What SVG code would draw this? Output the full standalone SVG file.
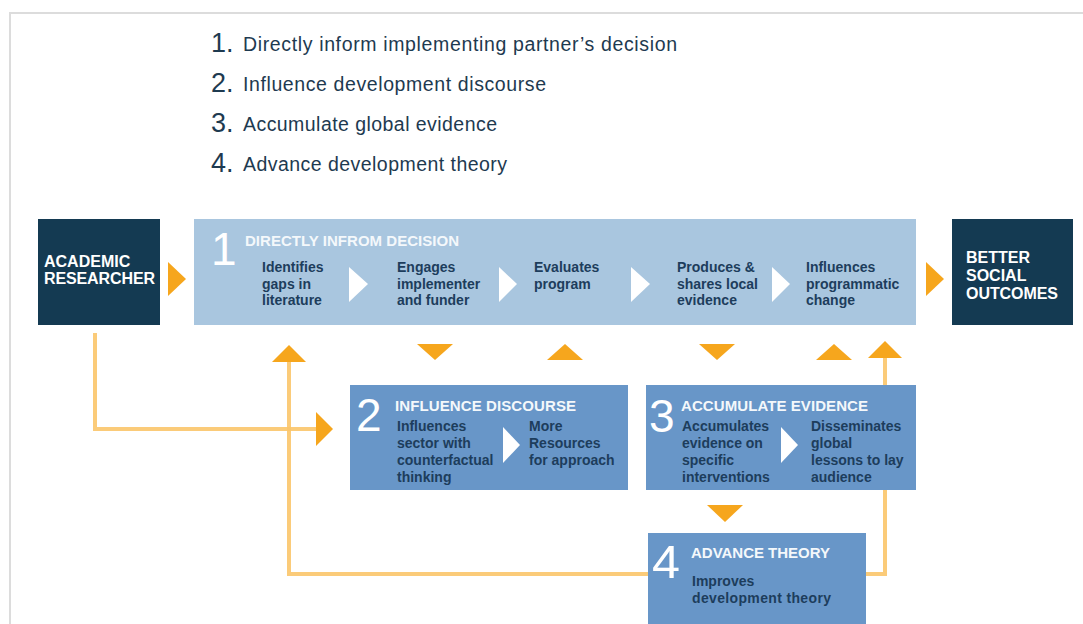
<svg xmlns="http://www.w3.org/2000/svg" width="1083" height="624" viewBox="0 0 1083 624">
<style>
.list{font-family:"Liberation Sans",Arial,sans-serif;fill:#1e3a50;font-size:19.5px}
.num{font-family:"Liberation Sans",Arial,sans-serif;fill:#1e3a50;font-size:27px}
.dark{fill:#143a52}
.light{fill:#a9c6df}
.mid{fill:#6896c8}
.wt{font-family:"Liberation Sans",Arial,sans-serif;font-weight:bold;fill:#ffffff;font-size:16px}
.ttl{font-family:"Liberation Sans",Arial,sans-serif;font-weight:bold;fill:#f4f8fb;font-size:15px}
.bt{font-family:"Liberation Sans",Arial,sans-serif;font-weight:bold;fill:#1d3d5c;font-size:14px}
.big{font-family:"Liberation Sans",Arial,sans-serif;fill:#ffffff;font-size:46px}
.tri{fill:#ffffff}
.or{fill:#f6a61d}
.ln{fill:none;stroke:#fbc56a;stroke-width:4;opacity:0.9}
</style>
<rect x="10" y="13" width="1080" height="620" fill="none" stroke="#dcdcdc" stroke-width="2"/>
<g id="legend">
<text class="num" x="211" y="52">1.</text>
<text class="list" x="243" y="51" textLength="434">Directly inform implementing partner’s decision</text>
<text class="num" x="211" y="92">2.</text>
<text class="list" x="243" y="91" textLength="303">Influence development discourse</text>
<text class="num" x="211" y="132">3.</text>
<text class="list" x="243" y="131" textLength="254">Accumulate global evidence</text>
<text class="num" x="211" y="172">4.</text>
<text class="list" x="243" y="171" textLength="264">Advance development theory</text>
</g>
<g id="connectors">
<polyline class="ln" points="95,333 95,429 318,429"/>
<polygon class="or" points="316,412 333,429 316,446"/>
<polyline class="ln" points="289,360 289,574 885,574 885,356"/>
<polygon class="or" points="272,362 289,345 306,362"/>
<polygon class="or" points="868,358 885,341 902,358"/>
<polygon class="or" points="168,262 186,279 168,296"/>
<polygon class="or" points="926,262 944,279 926,296"/>
<polygon class="or" points="417,344 453,344 435,360"/>
<polygon class="or" points="547,360 583,360 565,344"/>
<polygon class="or" points="699,344 735,344 717,360"/>
<polygon class="or" points="816,360 852,360 834,344"/>
<polygon class="or" points="707,505 743,505 725,522"/>
</g>
<g id="academic">
<rect class="dark" x="38" y="219" width="122" height="106"/>
<text class="wt" x="44" y="267">ACADEMIC</text>
<text class="wt" x="44" y="284" textLength="111">RESEARCHER</text>
</g>
<g id="outcomes">
<rect class="dark" x="952" y="219" width="121" height="106"/>
<text class="wt" x="966" y="263">BETTER</text>
<text class="wt" x="966" y="281">SOCIAL</text>
<text class="wt" x="966" y="299" textLength="92">OUTCOMES</text>
</g>
<g id="box1">
<rect class="light" x="194" y="219" width="722" height="106"/>
<text class="big" x="211" y="265">1</text>
<text class="ttl" x="245" y="246" textLength="214">DIRECTLY INFROM DECISION</text>
<text class="bt" x="262" y="272">Identifies</text>
<text class="bt" x="262" y="289">gaps in</text>
<text class="bt" x="262" y="305">literature</text>
<polygon class="tri" points="349,267 368,284 349,302"/>
<text class="bt" x="397" y="272">Engages</text>
<text class="bt" x="397" y="289">implementer</text>
<text class="bt" x="397" y="305">and funder</text>
<polygon class="tri" points="499,267 517,284 499,302"/>
<text class="bt" x="534" y="272">Evaluates</text>
<text class="bt" x="534" y="289">program</text>
<polygon class="tri" points="631,267 650,284 631,302"/>
<text class="bt" x="677" y="272">Produces &amp;</text>
<text class="bt" x="677" y="289">shares local</text>
<text class="bt" x="677" y="305">evidence</text>
<polygon class="tri" points="772,267 790,284 772,302"/>
<text class="bt" x="806" y="272">Influences</text>
<text class="bt" x="806" y="289">programmatic</text>
<text class="bt" x="806" y="305">change</text>
</g>
<g id="box2">
<rect class="mid" x="350" y="385" width="278" height="105"/>
<text class="big" x="356" y="431">2</text>
<text class="ttl" x="395" y="411" textLength="181">INFLUENCE DISCOURSE</text>
<text class="bt" x="397" y="431">Influences</text>
<text class="bt" x="397" y="448">sector with</text>
<text class="bt" x="397" y="465">counterfactual</text>
<text class="bt" x="397" y="482">thinking</text>
<polygon class="tri" points="503,427 520,445 503,463"/>
<text class="bt" x="529" y="431">More</text>
<text class="bt" x="529" y="448">Resources</text>
<text class="bt" x="529" y="465">for approach</text>
</g>
<g id="box3">
<rect class="mid" x="646" y="385" width="270" height="105"/>
<text class="big" x="649" y="432">3</text>
<text class="ttl" x="681" y="411" textLength="187">ACCUMULATE EVIDENCE</text>
<text class="bt" x="682" y="431">Accumulates</text>
<text class="bt" x="682" y="448">evidence on</text>
<text class="bt" x="682" y="465">specific</text>
<text class="bt" x="682" y="482">interventions</text>
<polygon class="tri" points="781,427 798,445 781,463"/>
<text class="bt" x="811" y="431">Disseminates</text>
<text class="bt" x="811" y="448">global</text>
<text class="bt" x="811" y="465">lessons to lay</text>
<text class="bt" x="811" y="482">audience</text>
</g>
<g id="box4">
<rect class="mid" x="648" y="533" width="218" height="95"/>
<text class="big" x="652" y="578" font-size="50" textLength="28" lengthAdjust="spacingAndGlyphs">4</text>
<text class="ttl" x="691" y="558" textLength="139">ADVANCE THEORY</text>
<text class="bt" x="692" y="586">Improves</text>
<text class="bt" x="692" y="603" textLength="139">development theory</text>
</g>
</svg>
